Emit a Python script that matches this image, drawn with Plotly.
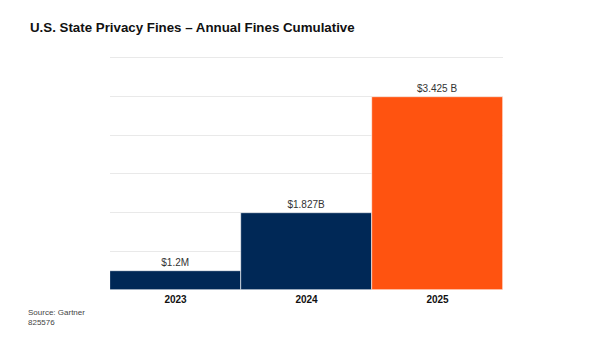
import plotly.graph_objects as go

years = ["2023", "2024", "2025"]
bar_heights = [0.5, 2.0, 5.0]  # plotted heights as drawn (arbitrary grid units)
labels = ["$1.2M", "$1.827B", "$3.425 B"]
colors = ["#002856", "#002856", "#FF5310"]

fig = go.Figure(go.Bar(
    x=years, y=bar_heights, text=labels, textposition="outside",
    textfont=dict(family="Liberation Sans, Arial", size=10, color="#333333"),
    marker=dict(color=colors, line=dict(color="#ffffff", width=0.6)),
    cliponaxis=False, width=1.0,
))

fig.update_layout(
    width=600, height=340,
    margin=dict(l=110, r=97, t=54, b=50),
    paper_bgcolor="white", plot_bgcolor="white",
    showlegend=False, bargap=0,
    font=dict(family="Liberation Sans, Arial", color="#222222"),
    xaxis=dict(showgrid=False, showline=False, ticks="",
               tickfont=dict(family="Liberation Sans, Arial", size=10, color="#111111", weight="bold"),
               ticklabelstandoff=2),
    yaxis=dict(range=[0, 6.1], dtick=1, showgrid=True, gridcolor="#e9e9e9", gridwidth=1,
               showticklabels=False, zeroline=False, showline=False),
    annotations=[
        dict(text="<b>U.S. State Privacy Fines – Annual Fines Cumulative</b>",
             xref="paper", yref="paper", x=-82/393, y=1 + 27/236, xanchor="left", yanchor="middle",
             showarrow=False, font=dict(family="Liberation Sans, Arial", size=13.3, color="#111111")),
        dict(text="Source: Gartner<br>825576",
             xref="paper", yref="paper", x=-84/393, y=-16/236, xanchor="left", yanchor="top",
             showarrow=False, align="left",
             font=dict(family="Liberation Sans, Arial", size=8, color="#444444")),
    ],
)

fig.write_html("out.html")
